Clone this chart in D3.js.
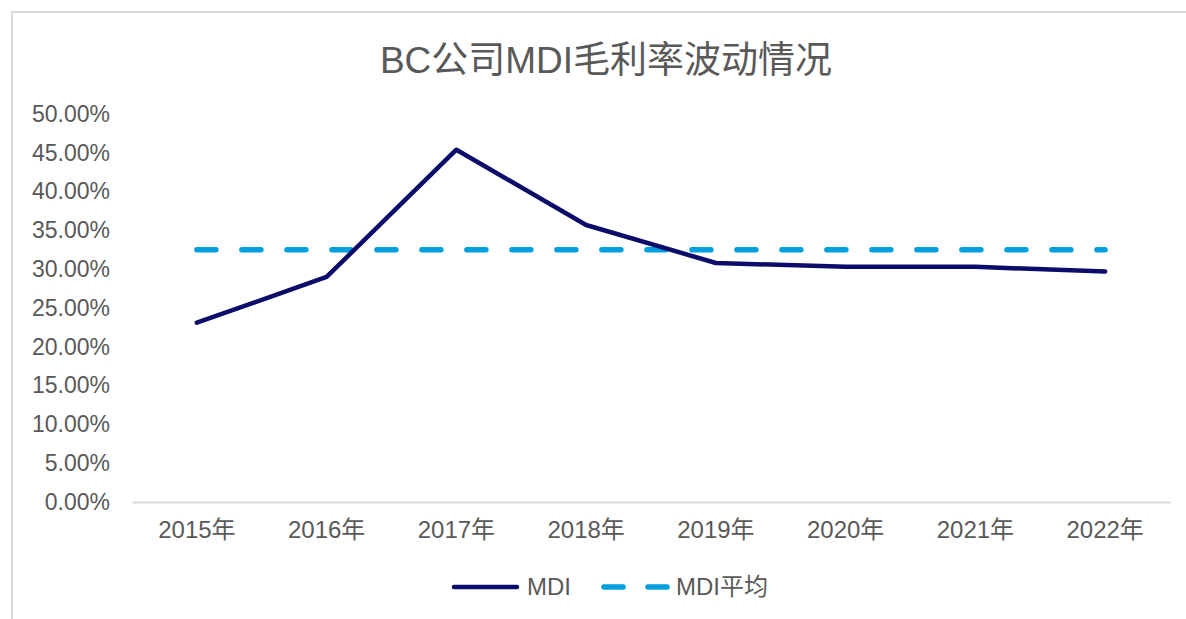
<!DOCTYPE html>
<html>
<head>
<meta charset="utf-8">
<script src="https://cdn.jsdelivr.net/npm/d3@7"></script>
<style>
  html, body { margin: 0; padding: 0; background: #ffffff; }
  svg { display: block; }
  text { font-family: "Liberation Sans", Arial, "Noto Sans CJK SC", sans-serif; fill: #595959; }
</style>
</head>
<body>
<div id="chart"></div>
<script>
// MDI gross margin by year
const years = ["2015年", "2016年", "2017年", "2018年", "2019年", "2020年", "2021年", "2022年"];
const mdiMargin = [0.231, 0.290, 0.454, 0.357, 0.308, 0.303, 0.303, 0.297];
const mdiAverage = 0.325;
const yTicks = [0, 0.05, 0.10, 0.15, 0.20, 0.25, 0.30, 0.35, 0.40, 0.45, 0.50];
const titleText = "BC公司MDI毛利率波动情况";
const seriesNames = ["MDI", "MDI平均"];

const W = 1186, H = 619;
const plot = { left: 132, right: 1170, top: 114, bottom: 502 };
const navy = "#0c0c6a", sky = "#00a0de";

const svg = d3.select("#chart").append("svg")
  .attr("width", W).attr("height", H);

// chart frame
svg.append("rect")
  .attr("x", 12).attr("y", 12)
  .attr("width", W + 20).attr("height", H + 20)
  .attr("fill", "#ffffff")
  .attr("stroke", "#d9d9d9").attr("stroke-width", 2);

svg.append("text")
  .attr("x", 606).attr("y", 73)
  .attr("text-anchor", "middle")
  .style("font-size", "37px")
  .text(titleText);

const x = d3.scaleBand().domain(years).range([plot.left, plot.right]);
const y = d3.scaleLinear().domain([0, 0.5]).range([plot.bottom, plot.top]);
const cx = d => x(d) + x.bandwidth() / 2;

// y axis labels
const yAxis = svg.append("g")
  .attr("transform", `translate(${plot.left},0)`)
  .call(d3.axisLeft(y).tickValues(yTicks).tickFormat(d3.format(".2%")).tickSize(0).tickPadding(22));
yAxis.select(".domain").remove();
yAxis.selectAll("text").style("font-size", "23px").attr("fill", "#595959");

// x axis
const xAxis = svg.append("g")
  .attr("transform", `translate(0,${plot.bottom})`)
  .call(d3.axisBottom(x).tickSize(0).tickPadding(19));
xAxis.select(".domain").attr("stroke", "#d9d9d9").attr("stroke-width", 2);
xAxis.selectAll("text").style("font-size", "24px").attr("fill", "#595959");

// average line
svg.append("path")
  .datum(years)
  .attr("fill", "none")
  .attr("stroke", sky).attr("stroke-width", 5.5)
  .attr("stroke-linecap", "round")
  .attr("stroke-dasharray", "19 26")
  .attr("d", d3.line().x(d => cx(d)).y(() => y(mdiAverage)));

// MDI line
svg.append("path")
  .datum(mdiMargin)
  .attr("fill", "none")
  .attr("stroke", navy).attr("stroke-width", 4.5)
  .attr("stroke-linejoin", "round").attr("stroke-linecap", "round")
  .attr("d", d3.line().x((d, i) => cx(years[i])).y(d => y(d)));

// legend
const lg = svg.append("g");
lg.append("line").attr("x1", 454).attr("x2", 517).attr("y1", 587).attr("y2", 587)
  .attr("stroke", navy).attr("stroke-width", 4.5).attr("stroke-linecap", "round");
lg.append("text").attr("x", 527).attr("y", 595).style("font-size", "24px").text(seriesNames[0]);
lg.append("line").attr("x1", 604).attr("x2", 667).attr("y1", 587).attr("y2", 587)
  .attr("stroke", sky).attr("stroke-width", 5.5).attr("stroke-linecap", "round")
  .attr("stroke-dasharray", "19 25");
lg.append("text").attr("x", 676).attr("y", 595).style("font-size", "24px").text(seriesNames[1]);
</script>
</body>
</html>
